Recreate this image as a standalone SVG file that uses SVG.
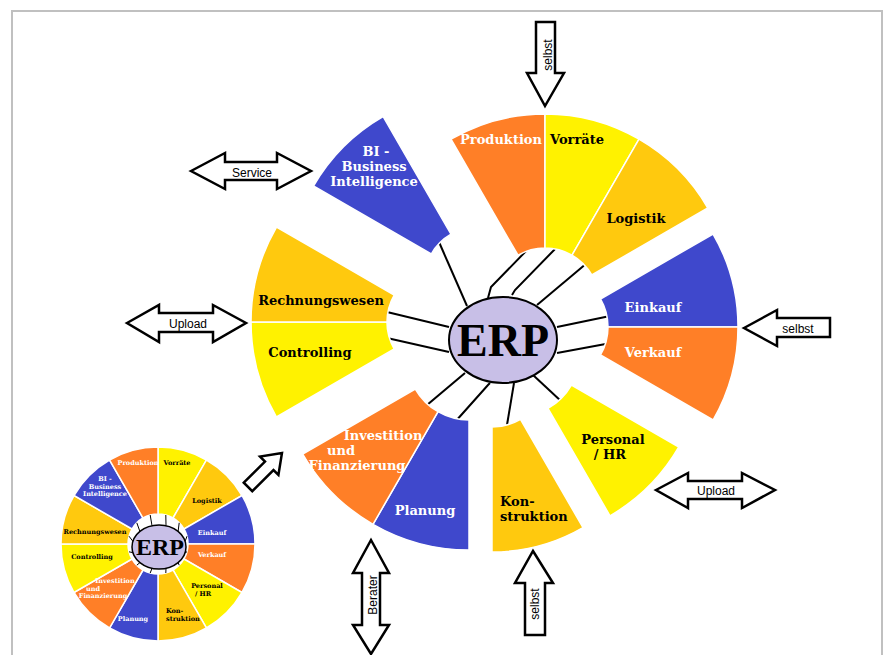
<svg xmlns="http://www.w3.org/2000/svg" width="887" height="655" viewBox="0 0 887 655">
<style>
.or{fill:#FF7F27}.ye{fill:#FFF200}.go{fill:#FFC90E}.bl{fill:#3F48CC}
.sec{stroke:#fff;stroke-width:1.5}
.lw{font-family:"DejaVu Serif",serif;font-weight:bold;font-size:13px;fill:#fff;text-anchor:middle}
.lb{font-family:"DejaVu Serif",serif;font-weight:bold;font-size:13px;fill:#000;text-anchor:middle}
.sw{font-family:"DejaVu Serif",serif;font-weight:bold;font-size:6.5px;fill:#fff;text-anchor:middle}
.sb{font-family:"DejaVu Serif",serif;font-weight:bold;font-size:6.5px;fill:#000;text-anchor:middle}
.arr{fill:#fff;stroke:#000;stroke-width:2.5;stroke-linejoin:miter}
.at{font-family:"Liberation Sans",Arial,sans-serif;font-size:12px;fill:#000;text-anchor:middle}
.con line,.con polyline{stroke:#000;stroke-width:2;fill:none}
.tick line{stroke:#000;stroke-width:1}
</style>
<defs>
<path id="s188" d="M0,-188 A188,188 0 0 1 94,-162.8 L27,-46.8 A54,54 0 0 0 0,-54 Z"/>
<path id="s186" d="M0,-186 A186,186 0 0 1 93,-161.1 L28,-48.5 A56,56 0 0 0 0,-56 Z"/>
<path id="sP" d="M0,-188 A188,188 0 0 1 94,-162.8 L32,-55.4 A64,64 0 0 0 0,-64 Z"/>
<path id="sK" d="M0,-182 A182,182 0 0 1 91,-157.6 L28.5,-49.4 A57,57 0 0 0 0,-57 Z"/>
<path id="s192" d="M0,-192 A192,192 0 0 1 96,-166.3 L31,-53.7 A62,62 0 0 0 0,-62 Z"/>
<path id="s190" d="M0,-190 A190,190 0 0 1 95,-164.5 L27,-46.8 A54,54 0 0 0 0,-54 Z"/>
<path id="sm" d="M0,-97 A97,97 0 0 1 48.5,-84 L15,-26 A30,30 0 0 0 0,-30 Z"/>
</defs>
<rect x="0" y="0" width="887" height="655" fill="#fff"/>
<path d="M12,655 L12,11 L882,11 L882,655" fill="none" stroke="#c0c0c0" stroke-width="2"/>

<g id="connectors" class="con">
<line x1="439" y1="242" x2="467" y2="306"/>
<polyline points="488,298 491,287 530,247"/>
<polyline points="512,295 515,290 558,246"/>
<line x1="537" y1="305" x2="587" y2="263"/>
<line x1="557" y1="327" x2="610" y2="316"/>
<line x1="557" y1="353" x2="611" y2="343"/>
<line x1="533" y1="375" x2="562" y2="402"/>
<line x1="514" y1="383" x2="507" y2="425"/>
<polyline points="490,383 488,385 455,422"/>
<line x1="465" y1="373" x2="427" y2="405"/>
<line x1="449" y1="352" x2="387" y2="338"/>
<line x1="449" y1="327" x2="387" y2="312"/>
</g>

<g id="group-top" transform="translate(545,302)">
<use href="#s188" class="sec or" transform="rotate(330)"/>
<use href="#s188" class="sec ye" transform="rotate(0)"/>
<use href="#s188" class="sec go" transform="rotate(30)"/>
</g>
<g id="produktion"><text class="lw" x="501" y="144">Produktion</text></g>
<g id="vorraete"><text class="lb" x="577" y="144">Vorräte</text></g>
<g id="logistik"><text class="lb" x="636" y="223">Logistik</text></g>

<g id="group-right" transform="translate(552,327)">
<use href="#s186" class="sec bl" transform="rotate(60)"/>
<use href="#s186" class="sec or" transform="rotate(90)"/>
</g>
<g id="einkauf"><text class="lw" x="653" y="312">Einkauf</text></g>
<g id="verkauf"><text class="lw" x="653" y="357">Verkauf</text></g>

<g id="personal">
<use href="#sP" class="sec ye" transform="translate(516,353) rotate(120)"/>
<text class="lb" x="613" y="444">Personal</text>
<text class="lb" x="610" y="459">/ HR</text>
</g>

<g id="konstruktion">
<use href="#sK" class="sec go" transform="translate(492,370) rotate(150)"/>
<text class="lb" x="500" y="506" text-anchor="start" style="text-anchor:start">Kon-</text>
<text class="lb" x="500" y="521" style="text-anchor:start">struktion</text>
</g>

<g id="group-bottom" transform="translate(469,358)">
<use href="#s192" class="sec bl" transform="rotate(180)"/>
<use href="#s192" class="sec or" transform="rotate(210)"/>
</g>
<g id="planung"><text class="lw" x="425" y="515">Planung</text></g>
<g id="investition">
<text class="lw" x="383" y="440">Investition</text>
<text class="lw" x="341" y="455">und</text>
<text class="lw" x="357" y="470">Finanzierung</text>
</g>

<g id="group-left" transform="translate(441,322)">
<use href="#s190" class="sec ye" transform="rotate(240)"/>
<use href="#s190" class="sec go" transform="rotate(270)"/>
</g>
<g id="rechnungswesen"><text class="lb" x="321" y="305">Rechnungswesen</text></g>
<g id="controlling"><text class="lb" x="310" y="357">Controlling</text></g>

<g id="bi">
<use href="#s190" class="sec bl" transform="translate(478,281) rotate(300)"/>
<text class="lw" x="376" y="156">BI -</text>
<text class="lw" x="374" y="171">Business</text>
<text class="lw" x="374" y="186">Intelligence</text>
</g>

<g id="erp">
<ellipse cx="503" cy="340" rx="54" ry="43" fill="#C8BFE7" stroke="#000" stroke-width="2"/>
<text x="503" y="356" font-family="'Liberation Serif','Times New Roman',serif" font-weight="bold" font-size="46" text-anchor="middle" fill="#000">ERP</text>
</g>

<g id="arrow-top-selbst">
<path class="arr" d="M536,22 L555,22 L555,73 L564,73 L545,106 L527,73 L536,73 Z"/>
<text class="at" transform="translate(552,55) rotate(-90)">selbst</text>
</g>
<g id="arrow-service">
<path class="arr" d="M191,171 L225,153 L225,162 L277,162 L277,153 L311,171 L277,189 L277,180 L225,180 L225,189 Z"/>
<text class="at" x="252" y="177">Service</text>
</g>
<g id="arrow-upload-left">
<path class="arr" d="M127,323 L159,305 L159,313 L213,313 L213,305 L246,323 L213,342 L213,332 L159,332 L159,342 Z"/>
<text class="at" x="188" y="328">Upload</text>
</g>
<g id="arrow-right-selbst">
<path class="arr" d="M744,328 L777,310 L777,318 L830,318 L830,337 L777,337 L777,346 Z"/>
<text class="at" x="798" y="333">selbst</text>
</g>
<g id="arrow-upload-right">
<path class="arr" d="M656,490 L688,473 L688,481 L742,481 L742,473 L775,490 L742,508 L742,499 L688,499 L688,508 Z"/>
<text class="at" x="716" y="495">Upload</text>
</g>
<g id="arrow-berater">
<path class="arr" d="M371,540 L389,573 L380,573 L380,625 L389,625 L371,654 L353,625 L362,625 L362,573 L353,573 Z"/>
<text class="at" transform="translate(377,595) rotate(-90)">Berater</text>
</g>
<g id="arrow-bottom-selbst">
<path class="arr" d="M533,551 L553,583 L545,583 L545,635 L525,635 L525,583 L515,583 Z"/>
<text class="at" transform="translate(539,604) rotate(-90)">selbst</text>
</g>
<g id="arrow-diagonal">
<path class="arr" d="M-24,-6 L6,-6 L6,-13 L24,0 L6,13 L6,6 L-24,6 Z" transform="translate(265,470) rotate(-45)"/>
</g>

<g id="small-wheel">
<g transform="translate(158,544)">
<use href="#sm" class="sec ye" transform="rotate(0)"/>
<use href="#sm" class="sec go" transform="rotate(30)"/>
<use href="#sm" class="sec bl" transform="rotate(60)"/>
<use href="#sm" class="sec or" transform="rotate(90)"/>
<use href="#sm" class="sec ye" transform="rotate(120)"/>
<use href="#sm" class="sec go" transform="rotate(150)"/>
<use href="#sm" class="sec bl" transform="rotate(180)"/>
<use href="#sm" class="sec or" transform="rotate(210)"/>
<use href="#sm" class="sec ye" transform="rotate(240)"/>
<use href="#sm" class="sec go" transform="rotate(270)"/>
<use href="#sm" class="sec bl" transform="rotate(300)"/>
<use href="#sm" class="sec or" transform="rotate(330)"/>
</g>
<g class="tick">
<line x1="165.8" y1="515" x2="166" y2="525.7"/>
<line x1="179.2" y1="522.8" x2="178.1" y2="531.4"/>
<line x1="187" y1="536.2" x2="185.1" y2="541.3"/>
<line x1="187" y1="551.8" x2="185.1" y2="552.7"/>
<line x1="179.2" y1="565.2" x2="178.1" y2="562.6"/>
<line x1="165.8" y1="573" x2="166" y2="568.3"/>
<line x1="150.2" y1="573" x2="152" y2="568.3"/>
<line x1="136.8" y1="565.2" x2="139.9" y2="562.6"/>
<line x1="129" y1="551.8" x2="132.9" y2="552.7"/>
<line x1="129" y1="536.2" x2="132.9" y2="541.3"/>
<line x1="136.8" y1="522.8" x2="139.9" y2="531.4"/>
<line x1="150.2" y1="515" x2="152" y2="525.7"/>
</g>
<ellipse cx="159" cy="547" rx="27" ry="22" fill="#C8BFE7" stroke="#000" stroke-width="1.5"/>
<text x="160" y="555" font-family="'Liberation Serif','Times New Roman',serif" font-weight="bold" font-size="24" text-anchor="middle" fill="#000">ERP</text>
<text class="sw" x="138" y="465">Produktion</text>
<text class="sb" x="177" y="465">Vorräte</text>
<text class="sw" x="105" y="481">BI -</text>
<text class="sw" x="105" y="489">Business</text>
<text class="sw" x="105" y="496">Intelligence</text>
<text class="sb" x="207" y="503">Logistik</text>
<text class="sb" x="95" y="534">Rechnungswesen</text>
<text class="sw" x="212" y="535">Einkauf</text>
<text class="sb" x="92" y="559">Controlling</text>
<text class="sw" x="212" y="557">Verkauf</text>
<text class="sw" x="115" y="583">Investition</text>
<text class="sw" x="93" y="591">und</text>
<text class="sw" x="103" y="598">Finanzierung</text>
<text class="sb" x="207" y="588">Personal</text>
<text class="sb" x="203" y="596">/ HR</text>
<text class="sw" x="133" y="621">Planung</text>
<text class="sb" x="166" y="613" style="text-anchor:start">Kon-</text>
<text class="sb" x="166" y="621" style="text-anchor:start">struktion</text>
</g>
</svg>
